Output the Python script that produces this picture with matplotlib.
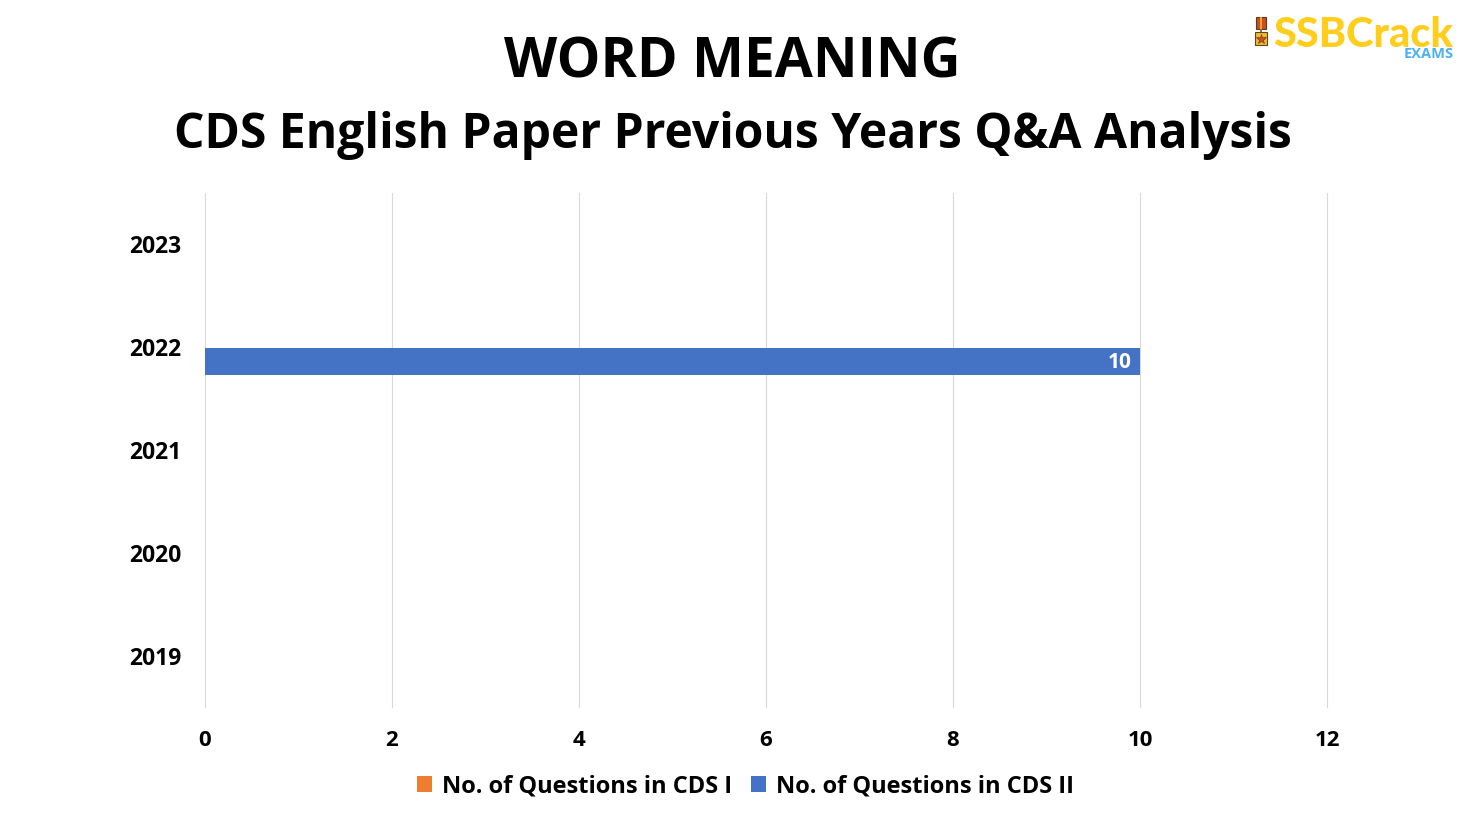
import matplotlib
matplotlib.use('Agg')
import matplotlib.pyplot as plt
from matplotlib.lines import Line2D
from matplotlib.patches import Rectangle
from matplotlib.transforms import ScaledTranslation
import numpy as np

plt.rcParams['font.family'] = ['Open Sans', 'DejaVu Sans']

years = ['2019', '2020', '2021', '2022', '2023']
cds_1 = [0, 0, 0, 0, 0]
cds_2 = [0, 0, 0, 10, 0]
x_ticks = [0, 2, 4, 6, 8, 10, 12]

W, H = 1477, 837
fig = plt.figure(figsize=(W / 100, H / 100), dpi=100)


def px_rect(x0, y0, x1, y1, fc, ec='none', lw=0.0):
    # rectangle given in picture pixels from the top left
    fig.add_artist(Rectangle((x0 / W, 1 - y1 / H), (x1 - x0) / W, (y1 - y0) / H,
                             transform=fig.transFigure, fc=fc, ec=ec, lw=lw))


ax = fig.add_axes([205 / W, 1 - 708 / H, (1327 - 205) / W, (708 - 194) / H])

pos = np.arange(len(years))
bar_h = 0.263
nudge = 0.008
ax.barh(pos + bar_h / 2 - nudge, cds_1, bar_h, color='#ED7D31', label='No. of Questions in CDS I')
bars = ax.barh(pos - bar_h / 2 - nudge, cds_2, bar_h, color='#4472C4', label='No. of Questions in CDS II')

for b, v in zip(bars, cds_2):
    if v:
        ax.text(v - 0.09, b.get_y() + b.get_height() / 2, str(v), color='white', fontsize=15,
                fontweight='bold', ha='right', va='center')

ax.set_xlim(0, 12)
ax.set_ylim(-0.5, 4.5)
ax.set_xticks(x_ticks)
ax.set_yticks(pos)
ax.set_yticklabels(years)
ax.tick_params(length=0)
ax.tick_params(axis='x', pad=16, labelsize=16)
ax.tick_params(axis='y', pad=17, labelsize=16.5)
for lab in ax.get_xticklabels() + ax.get_yticklabels():
    lab.set_fontweight('bold')
    lab.set_color('black')
up = ScaledTranslation(0, 1 / 100, fig.dpi_scale_trans)
for lab in ax.get_yticklabels():
    lab.set_transform(lab.get_transform() + up)
ax.grid(axis='x', color='#D9D9D9', lw=0.8, clip_on=False)
ax.set_axisbelow(True)
for s in ax.spines.values():
    s.set_visible(False)

handles, labels = ax.get_legend_handles_labels()
fig.legend(handles, labels, loc='center', bbox_to_anchor=(745.5 / W, 1 - 787 / H), ncol=2, frameon=False,
           prop={'size': 17, 'weight': 'bold'}, handlelength=0.65, handleheight=0.65,
           handletextpad=0.42, columnspacing=0.8)

fig.text(732.5 / W, 1 - 63 / H, 'WORD MEANING', fontsize=39.6, fontweight='bold', ha='center', va='center')
fig.text(733 / W, 1 - 135 / H, 'CDS English Paper Previous Years Q&A Analysis', fontsize=34.6, fontweight='bold',
         ha='center', va='center')

# logo top right
fig.text(1273 / W, 1 - 35 / H, 'SSBCrack', fontsize=29.8, fontweight='black', family=['Lato', 'DejaVu Sans'],
         color='#FFCD1C', ha='left', va='center')
fig.text(1454 / W, 1 - 54 / H, 'EXAMS', fontsize=10.5, fontweight='bold', color='#4DB0F5', ha='right', va='center')
px_rect(1256, 18, 1266, 30, '#C8501E', '#5A3A20', 0.8)
px_rect(1260, 18, 1262, 30, '#F0A030')
px_rect(1260, 30, 1262, 33, '#8A7A50')
px_rect(1255, 33, 1267, 46, '#F2B92A', '#5A4A20', 0.8)
fig.add_artist(Line2D([1261 / W], [1 - 39.5 / H], transform=fig.transFigure, marker='*', ms=7,
                      mfc='#C8501E', mec='#5A3A20', mew=0.4, ls='none'))

fig.savefig('out.png', dpi=100)
